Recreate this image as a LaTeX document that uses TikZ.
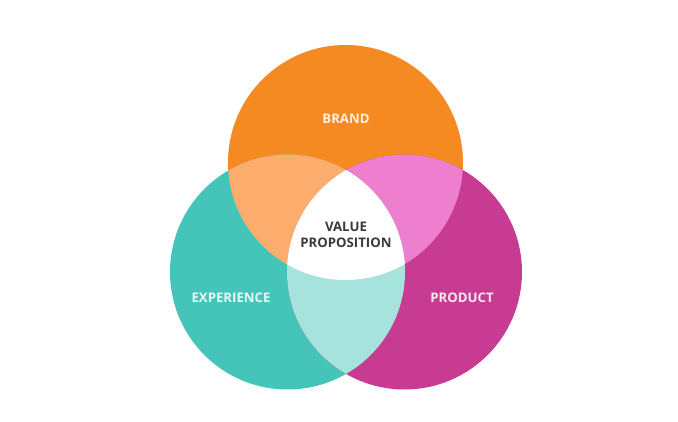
\documentclass[tikz,border=0pt]{standalone}
\usepackage{fontspec}
\setmainfont{Open Sans}
\definecolor{cbrand}{HTML}{F68A22}
\definecolor{cexp}{HTML}{45C5B9}
\definecolor{cprod}{HTML}{C73B93}
\definecolor{cbe}{HTML}{FCAC6C}
\definecolor{cbp}{HTML}{EE7FCF}
\definecolor{cep}{HTML}{A5E3DC}
\definecolor{ctext}{HTML}{3A3A3A}
\tikzset{
  lbl/.style={font=\bfseries\fontsize{13.2}{15}\selectfont, text=white, opacity=0.88, inner sep=0pt},
  vlbl/.style={font=\bfseries\fontsize{13.2}{16}\selectfont, text=ctext, align=center, inner sep=0pt},
}
\begin{document}
\begin{tikzpicture}[x=1pt,y=-1pt]
\useasboundingbox[fill=white] (0,0) rectangle (678,422);
\def\R{117.5}
\coordinate (B) at (345.5,162.5);
\coordinate (E) at (287.5,272);
\coordinate (P) at (404.5,272);
\fill[cbrand] (B) circle[radius=\R];
\fill[cexp] (E) circle[radius=\R];
\fill[cprod] (P) circle[radius=\R];
\begin{scope}
  \clip (B) circle[radius=\R];
  \fill[cbe] (E) circle[radius=\R];
  \fill[cbp] (P) circle[radius=\R];
\end{scope}
\begin{scope}
  \clip (E) circle[radius=\R];
  \fill[cep] (P) circle[radius=\R];
  \clip (P) circle[radius=\R];
  \fill[white] (B) circle[radius=\R];
\end{scope}
\node[lbl] (brand) at (346,119) {BRAND};
\node[lbl] (exp) at (231,298) {EXPERIENCE};
\node[lbl] (prod) at (462,298) {PRODUCT};
\node[vlbl] (vp) at (346,235) {VALUE\\PROPOSITION};
\end{tikzpicture}
\end{document}
